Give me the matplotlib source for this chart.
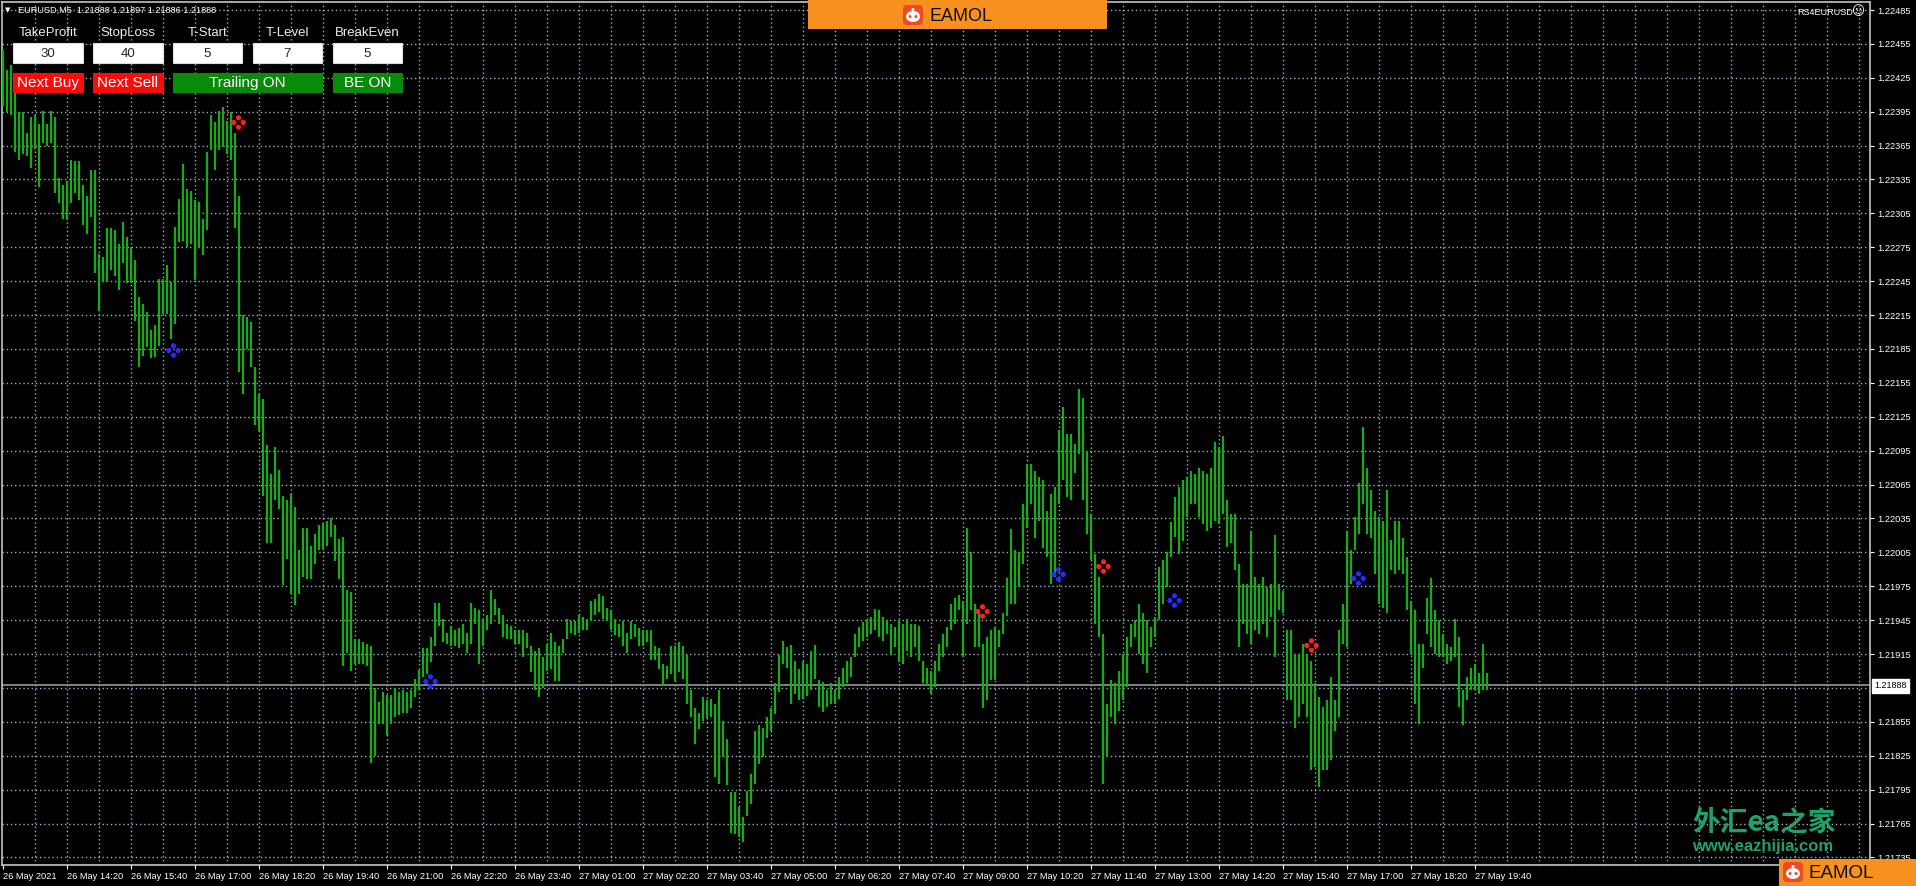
import numpy as np
import matplotlib
matplotlib.use('Agg')
import matplotlib.pyplot as plt
from matplotlib.patches import Rectangle, FancyBboxPatch, Ellipse
from matplotlib.path import Path

W, H = 1916, 886

# M5 bars, highs and lows in points (22432 -> 1.22432)
high_pts = [
    22450, 22432, 22436, 22420, 22395, 22395, 22376, 22390, 22392, 22384,
    22396, 22384, 22396, 22390, 22336, 22330, 22334, 22352, 22351, 22351,
    22330, 22320, 22343, 22343, 22269, 22266, 22292, 22292, 22290, 22278,
    22297, 22284, 22275, 22264, 22231, 22225, 22218, 22202, 22206, 22247,
    22247, 22259, 22244, 22293, 22318, 22349, 22327, 22325, 22317, 22315,
    22300, 22359, 22392, 22386, 22396, 22399, 22387, 22395, 22376, 22320,
    22215, 22213, 22209, 22169, 22145, 22141, 22100, 22074, 22098, 22078,
    22055, 22051, 22057, 22045, 22007, 22027, 22027, 22011, 22021, 22029,
    22031, 22033, 22035, 22029, 22017, 22019, 21972, 21970, 21928, 21928,
    21926, 21924, 21922, 21885, 21873, 21881, 21879, 21879, 21885, 21881,
    21883, 21881, 21883, 21893, 21901, 21920, 21920, 21930, 21960, 21960,
    21946, 21934, 21940, 21936, 21938, 21942, 21934, 21960, 21956, 21954,
    21946, 21950, 21972, 21964, 21956, 21950, 21942, 21940, 21936, 21936,
    21936, 21934, 21922, 21918, 21920, 21912, 21924, 21934, 21926, 21922,
    21928, 21946, 21944, 21944, 21950, 21948, 21946, 21962, 21964, 21968,
    21966, 21956, 21954, 21946, 21942, 21944, 21934, 21944, 21942, 21938,
    21936, 21936, 21936, 21922, 21920, 21906, 21904, 21922, 21922, 21926,
    21922, 21914, 21883, 21867, 21863, 21877, 21874, 21875, 21871, 21883,
    21856, 21840, 21793, 21793, 21780, 21771, 21794, 21809, 21847, 21852,
    21850, 21859, 21867, 21889, 21914, 21927, 21921, 21923, 21909, 21902,
    21909, 21906, 21918, 21923, 21892, 21890, 21883, 21889, 21883, 21895,
    21903, 21909, 21912, 21933, 21939, 21943, 21945, 21948, 21955, 21954,
    21948, 21945, 21942, 21939, 21945, 21942, 21946, 21942, 21942, 21940,
    21909, 21903, 21900, 21909, 21924, 21933, 21939, 21959, 21965, 21967,
    21962, 22027, 22005, 21959, 21951, 21924, 21930, 21936, 21939, 21936,
    21951, 21982, 22026, 22007, 22005, 22048, 22083, 22083, 22077, 22072,
    22069, 22042, 22057, 22063, 22113, 22134, 22110, 22110, 22101, 22150,
    22142, 22095, 22039, 22004, 21983, 21933, 21871, 21892, 21889, 21900,
    21915, 21930, 21942, 21945, 21959, 21951, 21945, 21939, 21948, 21992,
    21998, 22005, 22032, 22054, 22063, 22069, 22072, 22077, 22074, 22080,
    22077, 22074, 22080, 22103, 22098, 22108, 22051, 22039, 22039, 21995,
    21977, 21977, 22024, 21983, 21977, 21983, 21974, 21977, 22020, 21977,
    21971, 21936, 21936, 21915, 21915, 21924, 21915, 21909, 21889, 21877,
    21868, 21874, 21895, 21874, 21936, 21959, 22024, 22007, 22036, 22066,
    22116, 22080, 22060, 22042, 22036, 22033, 22060, 22016, 22033, 22033,
    22018, 22001, 21962, 21954, 21924, 21924, 21965, 21982, 21954, 21945,
    21933, 21924, 21921, 21946, 21930, 21883, 21895, 21903, 21906, 21898,
    21924, 21898,
]
low_pts = [
    22400, 22395, 22392, 22359, 22352, 22358, 22356, 22345, 22362, 22328,
    22367, 22365, 22367, 22323, 22314, 22300, 22299, 22314, 22323, 22317,
    22295, 22287, 22302, 22252, 22219, 22244, 22244, 22255, 22250, 22237,
    22261, 22243, 22243, 22210, 22169, 22179, 22187, 22177, 22178, 22188,
    22216, 22216, 22194, 22207, 22280, 22281, 22275, 22278, 22246, 22274,
    22268, 22290, 22361, 22343, 22361, 22364, 22358, 22352, 22292, 22165,
    22145, 22185, 22169, 22118, 22112, 22055, 22013, 22013, 22051, 22043,
    21976, 21999, 21968, 21958, 21968, 21983, 21981, 21981, 21995, 22007,
    22007, 22011, 22019, 21997, 21981, 21904, 21916, 21900, 21906, 21906,
    21906, 21904, 21819, 21825, 21853, 21853, 21843, 21853, 21859, 21861,
    21863, 21863, 21867, 21877, 21883, 21895, 21897, 21908, 21922, 21940,
    21926, 21924, 21922, 21922, 21920, 21924, 21916, 21924, 21942, 21906,
    21922, 21936, 21942, 21950, 21942, 21930, 21928, 21928, 21924, 21924,
    21912, 21920, 21899, 21883, 21877, 21885, 21900, 21902, 21891, 21891,
    21916, 21928, 21934, 21932, 21934, 21936, 21936, 21944, 21950, 21952,
    21946, 21944, 21936, 21932, 21930, 21922, 21916, 21928, 21930, 21922,
    21922, 21926, 21910, 21910, 21902, 21887, 21893, 21897, 21891, 21899,
    21893, 21871, 21859, 21835, 21849, 21856, 21858, 21859, 21806, 21800,
    21824, 21799, 21757, 21756, 21753, 21749, 21772, 21782, 21800, 21818,
    21824, 21841, 21847, 21862, 21881, 21906, 21903, 21871, 21880, 21874,
    21875, 21878, 21883, 21893, 21868, 21864, 21868, 21871, 21871, 21875,
    21886, 21889, 21895, 21912, 21921, 21927, 21930, 21933, 21936, 21930,
    21927, 21933, 21914, 21921, 21908, 21906, 21918, 21912, 21921, 21909,
    21889, 21887, 21880, 21886, 21900, 21912, 21921, 21936, 21942, 21954,
    21912, 21942, 21954, 21921, 21921, 21867, 21874, 21892, 21892, 21921,
    21933, 21949, 21959, 21959, 21974, 21995, 22027, 22048, 22018, 22033,
    22009, 22001, 21977, 21983, 22048, 22069, 22054, 22051, 22075, 22092,
    22051, 22021, 21998, 21942, 21930, 21800, 21824, 21859, 21853, 21865,
    21874, 21886, 21921, 21930, 21915, 21906, 21898, 21921, 21930, 21945,
    21959, 21974, 22001, 22019, 22004, 22015, 22036, 22048, 22048, 22036,
    22030, 22024, 22027, 22033, 22030, 22039, 22010, 22013, 21989, 21921,
    21942, 21933, 21924, 21936, 21933, 21942, 21930, 21948, 21912, 21954,
    21951, 21874, 21874, 21850, 21859, 21871, 21859, 21812, 21815, 21797,
    21812, 21812, 21821, 21847, 21859, 21924, 21921, 21977, 22007, 22021,
    22048, 22021, 22018, 21986, 21959, 21956, 21951, 21989, 21986, 21989,
    21986, 21954, 21915, 21871, 21853, 21903, 21933, 21921, 21915, 21912,
    21912, 21906, 21909, 21912, 21868, 21852, 21874, 21883, 21883, 21880,
    21883, 21883,
]

# signal arrows (bar index, price in points)
sell_idx = [58.75, 244.7, 274.9, 326.9]
sell_pts = [22386, 21953, 21993, 21923]
buy_idx = [42.5, 106.75, 263.75, 292.7, 338.8]
buy_pts = [22184, 21891, 21986, 21963, 21982]

bid = 1.21888
price_ticks = [1.22485 - 0.0003 * k for k in range(26)]
time_labels = ['26 May 2021', '26 May 14:20', '26 May 15:40', '26 May 17:00',
               '26 May 18:20', '26 May 19:40', '26 May 21:00', '26 May 22:20',
               '26 May 23:40', '27 May 01:00', '27 May 02:20', '27 May 03:40',
               '27 May 05:00', '27 May 06:20', '27 May 07:40', '27 May 09:00',
               '27 May 10:20', '27 May 11:40', '27 May 13:00', '27 May 14:20',
               '27 May 15:40', '27 May 17:00', '27 May 18:20', '27 May 19:40']

panel_labels = ['TakeProfit', 'StopLoss', 'T-Start', 'T-Level', 'BreakEven']
panel_values = ['30', '40', '5', '7', '5']

highs = 1 + np.array(high_pts) / 1e5
lows = 1 + np.array(low_pts) / 1e5

FONT = ['Liberation Sans', 'DejaVu Sans']
plt.rcParams['font.family'] = FONT

fig = plt.figure(figsize=(W / 100, H / 100), dpi=100, facecolor='black')
ax = fig.add_axes([2 / W, 1 - 865 / H, 1868 / W, 863 / H], facecolor='black')

ymax = 1.22485 + 8 * 0.885e-5
ymin = 1.22485 - 855 * 0.885e-5
ax.set_xlim(-0.25, 466.75)
ax.set_ylim(ymin, ymax)

grid_kw = dict(color='#a2adbc', lw=1.0, linestyle=(0, (1, 2)), zorder=1)
for p in price_ticks:
    ax.axhline(p, **grid_kw)
for i in range(8, 467, 8):
    ax.axvline(i, **grid_kw)

ax.axhline(bid, color='#8f98a4', lw=1.2, zorder=2)

n = len(high_pts)
ax.vlines(np.arange(n), lows, highs, color='#16ac16', lw=1.6, zorder=3)

dots = Path.make_compound_path(*[Path.circle((dx, dy), 0.4)
                                 for dx, dy in [(0, 1), (1, 0), (0, -1), (-1, 0)]])
ax.plot(sell_idx, 1 + np.array(sell_pts) / 1e5, ls='none', marker=dots,
        ms=9.5, color='#ff2020', zorder=4)
ax.plot(buy_idx, 1 + np.array(buy_pts) / 1e5, ls='none', marker=dots,
        ms=9.5, color='#2a2aff', zorder=4)

for s in ax.spines.values():
    s.set_color('#c4c4c4')
    s.set_linewidth(1.2)

ax.yaxis.tick_right()
ax.set_yticks([p for p in price_ticks if abs(p - 1.21885) > 1e-7])
ax.set_yticklabels(['%.5f' % p for p in price_ticks if abs(p - 1.21885) > 1e-7])
ax.set_xticks(np.arange(len(time_labels)) * 16)
ax.set_xticklabels(time_labels, ha='left')
ax.tick_params(axis='both', colors='white', labelsize=6.7, length=3, width=0.8,
               pad=2)

# overlay in pixel coordinates
ov = fig.add_axes([0, 0, 1, 1], facecolor='none')
ov.set_xlim(0, W)
ov.set_ylim(H, 0)
ov.axis('off')

ov.text(1874, 686, '%.5f' % bid, fontsize=6.5, color='black', va='center',
        ha='left', bbox=dict(boxstyle='square,pad=0.25', fc='white', ec='white'))

ov.text(5, 10, '\u25bc', fontsize=5, color='white', va='center', ha='left',
        family=['DejaVu Sans'])
ov.text(18, 10, 'EURUSD,M5  1.21888 1.21897 1.21886 1.21888', fontsize=6.6,
        color='white', va='center', ha='left')
ov.text(1797, 12, 'RS4EURUSD', fontsize=6.5, color='white', va='center', ha='left')
ov.text(1852, 12, '\u263a', fontsize=9, color='white', va='center', ha='left',
        family=['DejaVu Sans'])

# trade panel
box_x = [(13, 83), (93, 163), (173, 242), (253, 322), (333, 402)]
for (x0, x1), lab, val in zip(box_x, panel_labels, panel_values):
    ov.text((x0 + x1) / 2, 33, lab, fontsize=9.5, color='#ececec',
            ha='center', va='center')
    ov.add_patch(Rectangle((x0, 43), x1 - x0, 20, fc='white', ec='#dddddd', lw=0.8))
    ov.text((x0 + x1) / 2, 53.5, val, fontsize=9.5, color='#222222',
            ha='center', va='center')

buttons = [((13, 83), 'Next Buy', '#ff0a0a'), ((93, 163), 'Next Sell', '#ff0a0a'),
           ((173, 322), 'Trailing ON', '#0a8a0a'), ((333, 402), 'BE ON', '#0a8a0a')]
for (x0, x1), lab, c in buttons:
    ov.add_patch(Rectangle((x0, 73), x1 - x0, 19, fc=c, ec=c, lw=0.8))
    ov.text((x0 + x1) / 2, 83, lab, fontsize=11, color='white',
            ha='center', va='center')


def logo(x, y):
    ov.add_patch(FancyBboxPatch((x, y), 20, 20, boxstyle='round,pad=0,rounding_size=4',
                                fc='#ee4a26', ec='none', zorder=6))
    ov.add_patch(Ellipse((x + 10, y + 11.5), 14, 11, fc='white', ec='none', zorder=7))
    ov.add_patch(Ellipse((x + 10, y + 4.5), 3, 3, fc='white', ec='none', zorder=7))
    for ex in (x + 7, x + 13):
        ov.add_patch(Ellipse((ex, y + 11.5), 3, 3, fc='#ee4a26', ec='none', zorder=8))


ov.add_patch(Rectangle((808, 0), 299, 29, fc='#f7901e', ec='none', zorder=5))
logo(903, 5)
ov.text(930, 16, 'EAMOL', fontsize=13, color='#111111', ha='left', va='center',
        zorder=8)

ov.add_patch(Rectangle((1779, 859), 137, 27, fc='#f7901e', ec='none', zorder=5))
logo(1783, 862)
ov.text(1809, 873, 'EAMOL', fontsize=13.5, color='#111111', ha='left',
        va='center', zorder=8)

# watermark
ov.text(1692, 822, '外汇ea之家', fontsize=20, color='#22a06b', ha='left',
        va='center', weight='bold', family=['Noto Sans CJK SC', 'DejaVu Sans'])
ov.text(1692, 847, 'www.eazhijia.com', fontsize=12, color='#22a06b', ha='left',
        va='center', weight='bold')

fig.savefig('out.png', dpi=100, facecolor='black')
